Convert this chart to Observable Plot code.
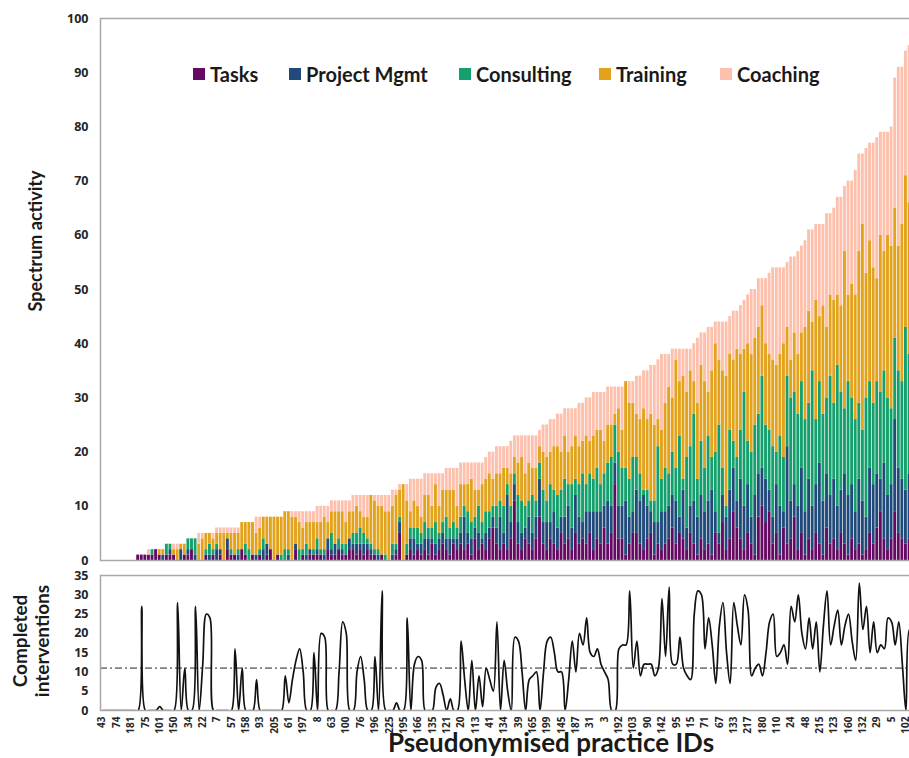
<!DOCTYPE html>
<html>
<head>
<meta charset="utf-8">
<script src="https://cdn.jsdelivr.net/npm/d3@7"></script>
<script src="https://cdn.jsdelivr.net/npm/@observablehq/plot@0.6"></script>
<style>
  html, body { margin: 0; padding: 0; background: #fff; overflow: hidden; }
  #wrap { position: relative; width: 909px; height: 758px; overflow: hidden; background: #fff; }
  #top, #bottom { position: absolute; left: 0; width: 920px; }
  #top { top: 0; }
  #bottom { top: 566px; }
  #top svg, #bottom svg { max-width: none !important; overflow: visible; }
  .lg-item { position: absolute; top: 62px; display: flex; align-items: center; font: 700 20px Lato, sans-serif; color: #1a1a1a; white-space: nowrap; }
  .lg-sw { width: 12px; height: 12px; margin-right: 5px; }
  .rot { position: absolute; transform: translate(-50%, -50%) rotate(-90deg); font: 700 19px Lato, sans-serif; color: #1a1a1a; text-align: center; white-space: nowrap; line-height: 22px; }
  .rot.small { font-size: 18px; }
  .xtitle { position: absolute; font: 700 26px Lato, sans-serif; line-height: 26px; color: #1a1a1a; white-space: nowrap; transform: translateX(-50%); }
</style>
</head>
<body>
<div id="wrap">
  <div id="top"></div>
  <div id="bottom"></div>
</div>
<script>
// ---------------- DATA ----------------
const seriesNames = ["Tasks", "Project Mgmt", "Consulting", "Training", "Coaching"];
const seriesColors = ["#640a62", "#1f4a7a", "#14a06c", "#e2a21b", "#fdc0ac"];

const tasks = [
  0,0,0,0,0,0,0,0,0,0,
  1,1,1,1,1,2,1,0,1,1,
  1,0,0,1,1,2,0,0,0,1,
  0,1,0,1,0,2,1,1,0,2,
  1,0,1,0,1,0,1,2,0,1,
  0,0,0,0,2,0,1,0,1,1,
  1,1,0,2,1,1,2,1,1,2,
  2,1,2,1,2,1,1,0,1,0,
  0,0,1,5,0,1,2,1,2,1,
  2,1,3,1,2,3,2,1,3,2,
  3,2,3,1,4,2,3,2,4,6,
  3,2,3,2,4,11,3,2,4,3,
  2,4,8,3,2,4,3,2,5,3,
  4,2,5,3,4,3,5,2,4,3,
  6,3,5,14,4,4,1,3,5,5,
  3,2,4,5,1,3,2,3,4,6,
  3,5,4,2,5,3,1,4,2,3,
  1,5,3,7,2,4,9,6,4,2,
  5,3,1,8,10,7,9,3,5,1,
  6,3,4,8,2,5,1,4,2,5,
  3,1,6,3,4,2,5,3,1,4,
  2,3,1,2,5,3,6,9,4,2,
  4,9,5,4,3,4,5,3
];
const projectMgmt = [
  0,0,0,0,0,0,0,0,0,0,
  0,0,0,0,0,0,0,1,0,1,
  0,0,2,0,1,0,1,0,0,0,
  1,0,2,1,0,2,0,0,1,0,
  0,0,0,1,0,2,2,0,0,0,
  0,0,1,0,1,0,0,1,1,0,
  1,0,1,2,1,2,0,1,0,2,
  1,2,1,2,1,1,0,1,0,0,
  0,1,1,2,0,0,2,3,1,2,
  2,3,1,2,2,2,2,3,1,2,
  2,6,2,3,2,3,1,3,2,2,
  3,6,2,10,3,3,4,3,2,5,
  3,4,7,4,5,3,6,4,3,5,
  6,4,7,5,3,6,4,7,5,6,
  4,8,5,4,6,6,10,5,4,8,
  8,10,6,4,6,4,7,6,6,6,
  8,3,9,4,5,8,7,8,7,8,
  12,4,2,5,6,9,8,5,11,8,
  9,5,11,8,7,8,4,5,9,9,
  3,18,7,6,8,12,8,11,8,9,
  15,10,10,9,11,8,8,13,11,10,
  7,12,10,6,12,11,10,6,14,10,
  10,17,12,11,10,12,10,11
];
const consulting = [
  0,0,0,0,0,0,0,0,0,0,
  0,0,0,0,1,0,0,0,2,1,
  0,0,0,0,2,2,3,0,0,1,
  2,1,1,0,0,0,1,0,1,0,
  2,2,0,0,1,2,0,0,0,0,
  1,2,1,0,0,2,1,2,0,1,
  2,1,1,0,3,0,2,1,2,0,
  2,2,3,2,1,1,1,1,0,1,
  0,2,1,1,0,2,2,2,3,2,
  3,2,2,4,1,2,4,2,3,2,
  3,2,4,3,2,5,3,4,3,2,
  4,3,5,2,3,2,5,6,4,3,
  7,3,3,6,4,7,4,6,5,7,
  4,8,3,6,9,5,7,6,8,5,
  6,7,9,7,10,7,6,7,10,6,
  5,1,3,2,4,14,6,8,6,8,
  6,15,2,13,11,16,7,10,8,12,
  6,11,20,5,2,11,5,8,9,21,
  8,12,13,11,17,10,11,13,6,13,
  10,13,19,17,17,16,17,14,25,12,
  15,16,14,22,14,26,18,12,21,16,
  17,14,13,22,16,15,17,16,17,18,
  14,15,18,18,30,22,21,20
];
const training = [
  0,0,0,0,0,0,0,0,0,0,
  0,0,0,0,0,0,1,1,0,0,
  1,2,1,2,0,0,0,3,4,3,
  2,2,2,3,5,1,3,4,3,5,
  4,5,6,4,4,4,5,6,8,7,
  7,7,7,8,5,5,4,4,5,5,
  3,5,6,3,4,6,5,6,4,5,
  4,5,3,3,4,9,9,8,9,8,
  9,7,9,5,14,8,3,5,4,3,
  5,6,4,7,5,6,5,7,6,4,
  6,4,5,8,5,3,7,6,7,5,
  6,5,7,3,6,3,6,8,6,7,
  5,6,3,7,8,6,8,9,7,8,
  6,7,8,7,6,9,6,8,7,10,
  6,7,6,2,8,7,16,14,10,8,
  10,15,13,16,14,5,9,12,16,10,
  20,10,19,12,14,6,14,14,16,8,
  16,20,12,18,24,14,15,20,14,8,
  18,18,16,16,13,15,14,16,16,15,
  21,9,7,11,11,9,17,17,9,22,
  12,20,13,15,19,13,16,29,16,21,
  23,28,38,23,26,25,19,29,22,30,
  30,24,23,29,28,28,28,27
];
const coaching = [
  0,0,0,0,0,0,0,0,0,0,
  0,0,0,1,0,0,0,0,0,0,
  1,1,0,0,0,0,0,2,1,0,
  0,1,1,1,1,1,1,1,1,0,
  0,0,0,3,2,0,0,0,0,0,
  0,0,0,1,1,2,3,2,2,2,
  3,3,2,3,2,2,2,2,4,2,
  3,2,3,4,4,0,1,2,2,3,
  3,3,1,1,0,3,6,4,5,7,
  4,4,6,2,6,3,4,4,4,7,
  4,4,4,3,5,5,4,4,4,5,
  5,5,4,4,6,4,5,4,7,5,
  6,6,3,5,6,6,5,6,7,5,
  8,7,5,8,7,7,8,8,7,7,
  9,7,7,5,4,8,0,4,4,7,
  8,7,9,9,11,11,14,9,6,9,
  2,6,5,8,4,7,12,6,9,12,
  8,4,7,9,10,7,9,7,9,9,
  9,12,9,9,5,12,15,17,18,16,
  14,12,19,14,19,16,16,15,17,14,
  17,15,21,15,17,18,20,12,21,19,
  23,18,13,23,18,23,26,19,22,19,
  22,24,33,29,23,29,32,36
];
const completed = [
  0,0,0,0,0,0,0,0,0,0,
  0,27,0,0,0,0,1,0,0,0,
  0,28,0,11,0,0,27,0,12,25,
  24,0,0,0,0,0,0,16,0,11,
  0,0,0,8,0,0,0,0,0,0,
  0,9,2,8,13,16,10,0,0,15,
  0,20,19,0,0,0,10,23,20,0,
  0,10,14,8,0,0,14,0,31,0,
  0,0,2,0,0,24,0,12,14,13,
  0,0,0,6,7,4,0,3,0,0,
  18,8,0,13,0,9,1,11,8,5,
  23,0,13,5,0,19,18,10,0,8,
  9,10,0,10,18,19,15,10,10,0,
  8,18,10,20,17,24,15,14,16,12,
  10,8,0,0,16,17,17,31,11,18,
  9,12,12,12,9,11,29,14,32,12,
  12,19,11,9,8,25,31,30,16,24,
  17,7,22,28,15,7,28,22,17,30,
  26,9,11,12,9,15,23,25,14,15,
  17,12,27,23,30,20,16,24,16,23,
  10,22,31,17,22,26,17,22,25,18,
  13,33,21,27,15,23,15,17,16,24,
  23,17,23,12,0,21,20,15
];
const completedMean = 11;
const practiceIds = ["43","74","181","75","101","150","34","22","7","57","158","93","205","61",
  "197","8","63","100","76","196","225","195","166","135","121","20","113","41",
  "134","39","165","199","145","187","31","3","192","103","90","142","95","15",
  "71","67","133","217","180","110","24","48","215","123","160","132","29","5","102"];
const idEvery = 4;
const topTicks = [0,10,20,30,40,50,60,70,80,90,100];
const bottomTicks = [0,5,10,15,20,25,30,35];

// ---------------- BUILD ----------------
const n = tasks.length;
const idx = d3.range(n);
const seriesArrays = [tasks, projectMgmt, consulting, training, coaching];
const rows = idx.flatMap(i => seriesArrays.map((arr, k) => ({i, series: seriesNames[k], value: arr[i]})));
const lineRows = idx.map(i => ({i, v: completed[i]}));
const tickIdx = practiceIds.map((_, k) => k * idEvery);

const W = 920;
const ML = 100, MR = 2;
const axisFont = {fontFamily: "Open Sans, sans-serif", fontWeight: 700};
const svgStyle = {fontFamily: "Open Sans, sans-serif", color: "#262626", background: "transparent", maxWidth: "none", overflow: "visible"};

const topPlot = Plot.plot({
  width: W, height: 566,
  marginLeft: ML, marginRight: MR, marginTop: 18, marginBottom: 6,
  style: svgStyle,
  x: {type: "band", domain: idx, paddingInner: 0.2, paddingOuter: 0.1, axis: null},
  y: {domain: [0, 100], axis: null},
  color: {domain: seriesNames, range: seriesColors},
  marks: [
    Plot.barY(rows, {x: "i", y: "value", fill: "series", order: seriesNames}),
    Plot.frame({stroke: "#a8a8a8", strokeWidth: 1.5}),
    Plot.axisY(topTicks, {tickSize: 0, tickPadding: 12, label: null, fontSize: 12.5, ...axisFont, fill: "#262626"})
  ]
});
document.getElementById("top").append(topPlot);

const bottomPlot = Plot.plot({
  width: W, height: 192,
  marginLeft: ML, marginRight: MR, marginTop: 9, marginBottom: 48,
  style: svgStyle,
  x: {type: "point", domain: idx, padding: 0.5, axis: null},
  y: {domain: [0, 35], axis: null},
  marks: [
    Plot.ruleY([completedMean], {stroke: "#222", strokeWidth: 1, strokeDasharray: "7,3,2,3"}),
    Plot.line(lineRows, {x: "i", y: "v", curve: "catmull-rom", stroke: "#111", strokeWidth: 1.7, clip: true}),
    Plot.frame({stroke: "#a8a8a8", strokeWidth: 1.5}),
    Plot.axisY(bottomTicks, {tickSize: 0, tickPadding: 12, label: null, fontSize: 12.5, ...axisFont, fill: "#262626"}),
    Plot.axisX(tickIdx, {tickSize: 0, tickPadding: 6, tickRotate: -90, label: null, fontSize: 10, ...axisFont, fill: "#262626",
      tickFormat: d => practiceIds[d / idEvery]})
  ]
});
document.getElementById("bottom").append(bottomPlot);

// ---------------- TEXT: legend & titles ----------------
const wrap = document.getElementById("wrap");
const legendLeft = [193, 289, 459, 599, 720];
seriesNames.forEach((name, k) => {
  const item = document.createElement("div");
  item.className = "lg-item";
  item.style.left = legendLeft[k] + "px";
  const sw = document.createElement("span");
  sw.className = "lg-sw";
  sw.style.background = seriesColors[k];
  const tx = document.createElement("span");
  tx.textContent = name;
  item.append(sw, tx);
  wrap.append(item);
});

function rotLabel(html, cx, cy, cls) {
  const d = document.createElement("div");
  d.className = "rot" + (cls ? " " + cls : "");
  d.innerHTML = html;
  d.style.left = cx + "px";
  d.style.top = cy + "px";
  wrap.append(d);
}
rotLabel("Spectrum activity", 35, 241, "small");
rotLabel("Completed<br>interventions", 31, 641);

const xt = document.createElement("div");
xt.className = "xtitle";
xt.textContent = "Pseudonymised practice IDs";
xt.style.left = "551px";
xt.style.top = "729px";
wrap.append(xt);
</script>
</body>
</html>
